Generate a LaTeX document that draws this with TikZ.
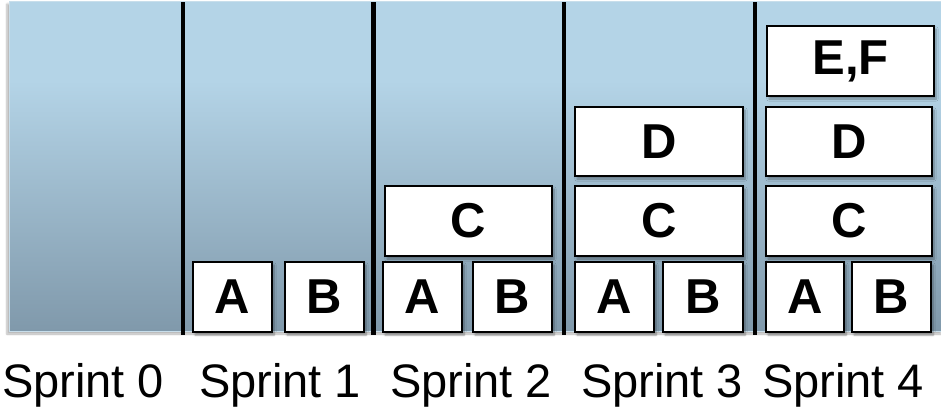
\documentclass[tikz,border=0pt]{standalone}
\usepackage{fontspec}
\setmainfont{Liberation Sans}
\usetikzlibrary{shadows.blur}
\definecolor{bgtop}{RGB}{180,212,231}
\definecolor{bgbot}{RGB}{128,153,171}
\definecolor{bgedge}{RGB}{200,222,235}
\begin{document}
\begin{tikzpicture}[x=1pt,y=-1pt,
  story/.style={draw=black,line width=2.6pt,fill=white,
    blur shadow={shadow xshift=2pt,shadow yshift=-3pt,shadow blur steps=6,shadow opacity=35}},
  storytext/.style={font=\fontsize{49}{49}\selectfont\bfseries},
  divider/.style={line width=4.5pt,black},
  sprintlabel/.style={font=\fontsize{47}{47}\selectfont,anchor=base}]
\useasboundingbox (0,0) rectangle (941,408);
% board background: flat light top, darkening towards the bottom
\path[fill=bgtop,
  blur shadow={shadow xshift=-2pt,shadow yshift=-3pt,shadow blur steps=6,shadow opacity=30}]
  (9,1) rectangle (943,331);
\shade[top color=bgtop,bottom color=bgbot] (9,80) rectangle (943,331);
\draw[bgedge,line width=1pt] (9,1) rectangle (943,331);
% sprint dividers
\foreach \x/\n in {183/d1,373.5/d2,564/d3,755/d4}
  \draw[divider] (\x,2) coordinate (\n top) -- (\x,335) coordinate (\n bot);
% story card: name, left, top, right, bottom, text
\newcommand{\story}[6]{\path[story] (#2,#3) rectangle (#4,#5);
  \node[storytext] (#1) at ({(#2+#4)/2},{(#3+#5)/2}) {#6};}
% bottom row
\story{a1}{193}{262}{272}{332}{A}
\story{b1}{285}{262}{364}{332}{B}
\story{a2}{383}{262}{462}{332}{A}
\story{b2}{473}{262}{552}{332}{B}
\story{a3}{575}{262}{654}{332}{A}
\story{b3}{663}{262}{743}{332}{B}
\story{a4}{766}{262}{844}{332}{A}
\story{b4}{852}{262}{931}{332}{B}
% upper rows
\story{c2}{385}{186}{552}{256}{C}
\story{c3}{575}{186}{743}{256}{C}
\story{c4}{766}{186}{932}{256}{C}
\story{d3}{575}{107}{743}{176}{D}
\story{d4}{766}{107}{932}{176}{D}
\story{ef4}{767}{26}{934}{96}{E,F}
% sprint labels
\node[sprintlabel] (s0) at (83,397) {Sprint 0};
\node[sprintlabel] (s1) at (280,397) {Sprint 1};
\node[sprintlabel] (s2) at (471,397) {Sprint 2};
\node[sprintlabel] (s3) at (662,397) {Sprint 3};
\node[sprintlabel] (s4) at (843,397) {Sprint 4};
\end{tikzpicture}
\end{document}
